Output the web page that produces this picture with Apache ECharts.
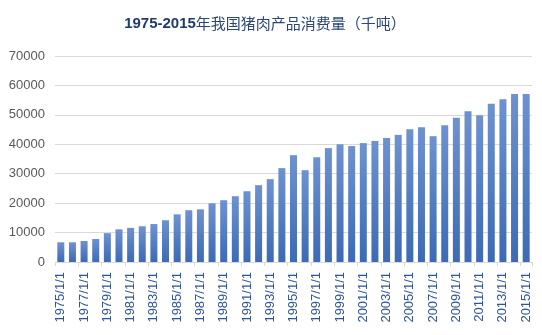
<!DOCTYPE html>
<html><head><meta charset="utf-8">
<script src="https://cdn.jsdelivr.net/npm/echarts@6/dist/echarts.min.js"></script>
<style>html,body{margin:0;padding:0;background:#fff}#c{width:542px;height:335px}</style>
</head><body><div id="c"></div>
<script>
const years = [];
for (let y = 1975; y <= 2015; y++) years.push(y + '/1/1');
const consumption = [6700, 6700, 7140, 7820, 9800, 11100, 11600, 12150, 12900, 14200,
  16200, 17600, 17900, 19950, 21000, 22350, 24050, 26100, 28150, 31900,
  36300, 31200, 35600, 38700, 40000, 39400, 40400, 41150, 42150, 43200,
  45150, 45800, 42750, 46500, 49000, 51250, 49900, 53750, 55300, 57050, 57050];
const yTicks = { min: 0, max: 70000, interval: 10000 };

const chart = echarts.init(document.getElementById('c'), null, { renderer: 'canvas' });
chart.setOption({
  animation: false,
  title: {
    text: '{b|1975-2015}{n|年我国猪肉产品消费量（千吨）}',
    left: 260, textAlign: 'center', top: 11,
    textStyle: {
      rich: {
        b: { fontFamily: 'Liberation Sans', fontWeight: 'bold', fontSize: 15, color: '#1f3a6e' },
        n: { fontFamily: 'Noto Sans CJK SC', fontWeight: 'normal', fontSize: 15, color: '#2b4679' }
      }
    }
  },
  grid: { left: 55, right: 10, top: 56, bottom: 73, containLabel: false },
  xAxis: {
    type: 'category', data: years,
    axisLine: { lineStyle: { color: '#d9d9d9' } },
    axisTick: { show: true, interval: 1, length: 4, lineStyle: { color: '#d9d9d9' } },
    axisLabel: { interval: 1, rotate: 90, fontSize: 13, fontFamily: 'Liberation Sans', color: '#2f5597', margin: 10 }
  },
  yAxis: {
    type: 'value', min: yTicks.min, max: yTicks.max, interval: yTicks.interval,
    axisLine: { show: false }, axisTick: { show: false },
    splitLine: { lineStyle: { color: '#d9d9d9' } },
    axisLabel: { fontSize: 13, fontFamily: 'Liberation Sans', color: '#595959', margin: 10,
      formatter: v => String(v) }
  },
  series: [{
    type: 'bar', data: consumption, barWidth: 7,
    itemStyle: {
      color: new echarts.graphic.LinearGradient(0, 0, 0, 1, [
        { offset: 0, color: '#6e92d0' },
        { offset: 1, color: '#3c6ab4' }
      ])
    }
  }]
});
</script></body></html>
